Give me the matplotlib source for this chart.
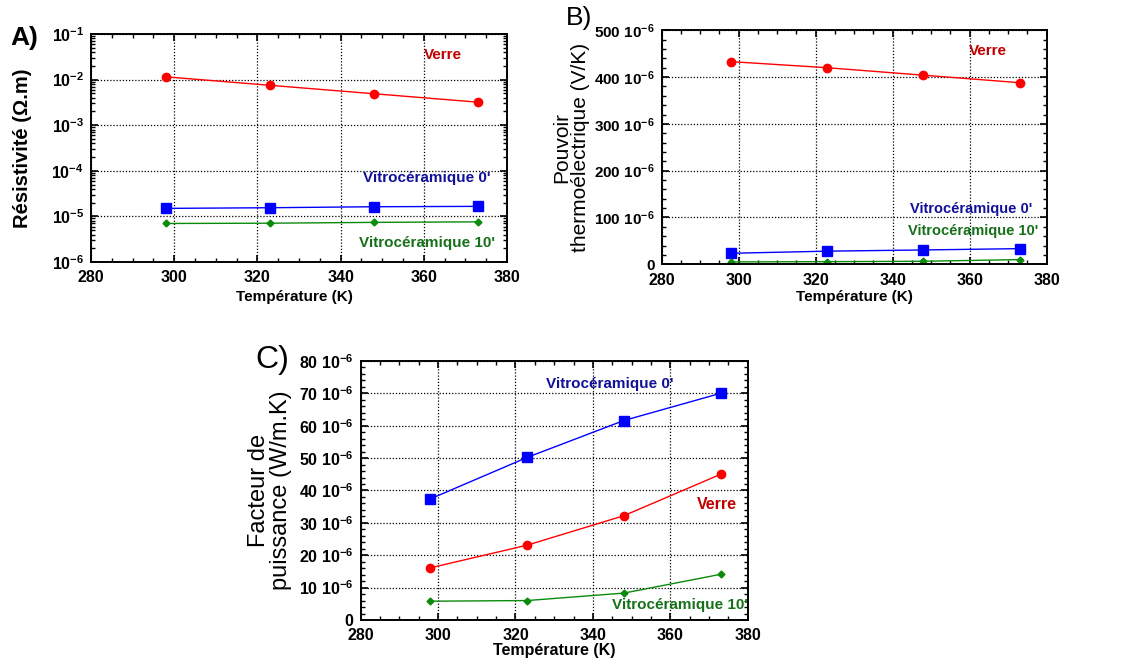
import numpy as np
import matplotlib.pyplot as plt
from matplotlib.ticker import FixedLocator, MultipleLocator, LogLocator, FuncFormatter, NullFormatter

plt.rcParams['font.family'] = ['Liberation Sans', 'DejaVu Sans']
plt.rcParams['mathtext.default'] = 'regular'
plt.rcParams['axes.unicode_minus'] = False

# data
T = [298, 323, 348, 373]
rho_verre = [1.15e-2, 7.5e-3, 4.9e-3, 3.2e-3]
rho_vc0 = [1.5e-5, 1.55e-5, 1.63e-5, 1.66e-5]
rho_vc10 = [7.0e-6, 7.1e-6, 7.4e-6, 7.6e-6]

S_verre = [433e-6, 420e-6, 404e-6, 388e-6]
S_vc0 = [23.5e-6, 28e-6, 30.6e-6, 33.4e-6]
S_vc10 = [5e-6, 5.6e-6, 6.4e-6, 10e-6]

PF_verre = [16.1e-6, 23.1e-6, 32.2e-6, 45.0e-6]
PF_vc0 = [37.4e-6, 50.2e-6, 61.6e-6, 70.0e-6]
PF_vc10 = [5.8e-6, 6.0e-6, 8.3e-6, 14.1e-6]

x_ticks = [280, 300, 320, 340, 360, 380]
A_ticks = [1e-6, 1e-5, 1e-4, 1e-3, 1e-2, 1e-1]
B_ticks = [0, 100e-6, 200e-6, 300e-6, 400e-6, 500e-6]
C_ticks = [0, 10e-6, 20e-6, 30e-6, 40e-6, 50e-6, 60e-6, 70e-6, 80e-6]

red, blue, green = '#ff0000', '#0000ff', '#0a8a0a'
red_t, blue_t, green_t = '#c00000', '#10109a', '#17701a'

fig = plt.figure(figsize=(11.45, 6.64), dpi=100)
axA = fig.add_axes([0.0795, 0.6054, 0.3633, 0.3434])
axB = fig.add_axes([0.5779, 0.6020, 0.3362, 0.3524])
axC = fig.add_axes([0.3150, 0.0663, 0.3380, 0.3901])


def style(ax, xfs, yfs):
    ax.set_xlim(280, 380)
    ax.xaxis.set_major_locator(FixedLocator(x_ticks))
    ax.xaxis.set_minor_locator(MultipleLocator(5))
    ax.tick_params(which='both', direction='in', top=True, right=True, pad=6, width=1.2)
    ax.tick_params(axis='x', labelsize=xfs)
    ax.tick_params(axis='y', labelsize=yfs, pad=5)
    ax.tick_params(which='major', length=5)
    ax.tick_params(which='minor', length=3, width=1)
    for t in ax.get_xticklabels() + ax.get_yticklabels():
        t.set_fontweight('bold')
    ax.grid(True, which='major', color='black', linestyle=(0, (1, 1.5)), linewidth=0.9)
    for s in ax.spines.values():
        s.set_linewidth(1.4)


def fmt_e6(v, pos):
    if abs(v) < 1e-12:
        return '0'
    return '%d 10$^{-6}$' % round(v * 1e6)


def fmt_log(v, pos):
    return '10$^{%d}$' % round(np.log10(v))


# A) resistivity
axA.plot(T, rho_verre, color=red, marker='o', ms=6, lw=1)
axA.plot(T, rho_vc0, color=blue, marker='s', ms=6.5, lw=1)
axA.plot(T, rho_vc10, color=green, marker='D', ms=3.5, lw=1)
axA.set_yscale('log')
axA.set_ylim(1e-6, 1e-1)
axA.yaxis.set_major_locator(FixedLocator(A_ticks))
axA.yaxis.set_minor_locator(LogLocator(base=10, subs=np.arange(2, 10)))
axA.yaxis.set_minor_formatter(NullFormatter())
axA.yaxis.set_major_formatter(FuncFormatter(fmt_log))
style(axA, 11.5, 11.5)
axA.text(364.6, 0.035, 'Verre', color=red_t, fontsize=11, fontweight='bold', ha='center', va='center')
axA.text(360.8, 6.9e-5, "Vitrocéramique 0'", color=blue_t, fontsize=11, fontweight='bold', ha='center', va='center')
axA.text(360.8, 2.6e-6, "Vitrocéramique 10'", color=green_t, fontsize=11, fontweight='bold', ha='center', va='center')
axA.set_ylabel('Résistivité (Ω.m)', fontsize=14.5, fontweight='bold')
axA.yaxis.set_label_coords(-0.142, 0.5)
axA.set_xlabel('Température (K)', fontsize=11, fontweight='bold')
axA.xaxis.set_label_coords(0.49, -0.123)
fig.text(10 / 1145, 1 - 26 / 664, 'A)', fontsize=19, fontweight='bold', va='top')

# B) Seebeck
axB.plot(T, S_verre, color=red, marker='o', ms=6, lw=1)
axB.plot(T, S_vc0, color=blue, marker='s', ms=6.5, lw=1)
axB.plot(T, S_vc10, color=green, marker='D', ms=3.5, lw=1)
axB.set_ylim(0, 500e-6)
axB.yaxis.set_major_locator(FixedLocator(B_ticks))
axB.yaxis.set_minor_locator(MultipleLocator(20e-6))
axB.yaxis.set_major_formatter(FuncFormatter(fmt_e6))
style(axB, 11.5, 11)
axB.text(364.7, 455e-6, 'Verre', color=red_t, fontsize=11, fontweight='bold', ha='center', va='center')
axB.text(360.5, 118e-6, "Vitrocéramique 0'", color=blue_t, fontsize=10.5, fontweight='bold', ha='center', va='center')
axB.text(360.9, 72e-6, "Vitrocéramique 10'", color=green_t, fontsize=10.5, fontweight='bold', ha='center', va='center')
axB.set_ylabel('Pouvoir\nthermoélectrique (V/K)', fontsize=15, linespacing=1.0)
axB.yaxis.set_label_coords(-0.186, 0.5)
axB.set_xlabel('Température (K)', fontsize=11, fontweight='bold')
axB.xaxis.set_label_coords(0.5, -0.110)
fig.text(566 / 1145, 1 - 6 / 664, 'B)', fontsize=19, va='top')

# C) power factor
axC.plot(T, PF_vc0, color=blue, marker='s', ms=6.5, lw=1)
axC.plot(T, PF_verre, color=red, marker='o', ms=6, lw=1)
axC.plot(T, PF_vc10, color=green, marker='D', ms=3.5, lw=1)
axC.set_ylim(0, 80e-6)
axC.yaxis.set_major_locator(FixedLocator(C_ticks))
axC.yaxis.set_minor_locator(MultipleLocator(2e-6))
axC.yaxis.set_major_formatter(FuncFormatter(fmt_e6))
style(axC, 11.5, 11.5)
axC.text(344.4, 73e-6, "Vitrocéramique 0'", color=blue_t, fontsize=11, fontweight='bold', ha='center', va='center')
axC.text(372.1, 35.6e-6, 'Verre', color=red_t, fontsize=11.5, fontweight='bold', ha='center', va='center')
axC.text(362.5, 4.6e-6, "Vitrocéramique 10'", color=green_t, fontsize=11, fontweight='bold', ha='center', va='center')
axC.set_ylabel('Facteur de\npuissance (W/m.K)', fontsize=17, linespacing=1.0)
axC.yaxis.set_label_coords(-0.177, 0.5)
axC.set_xlabel('Température (K)', fontsize=11.5, fontweight='bold')
axC.xaxis.set_label_coords(0.5, -0.090)
fig.text(255 / 1145, 1 - 345 / 664, 'C)', fontsize=23, va='top')

fig.savefig('out.png', dpi=100)
